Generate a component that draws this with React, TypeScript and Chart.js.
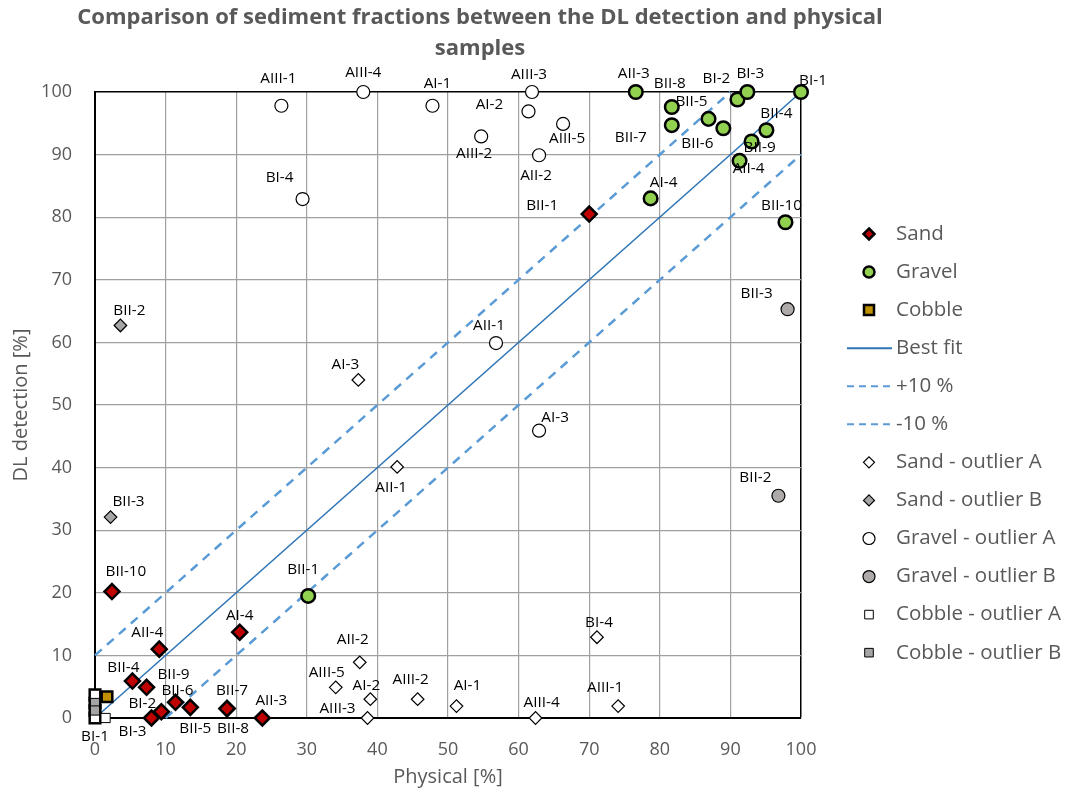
import React, { useEffect, useRef } from "react";
import { Chart, registerables } from "chart.js";

Chart.register(...registerables);

// ---------------- DATA ----------------
const titleLines = [
  "Comparison of sediment fractions between the DL detection and physical",
  "samples",
];
const xAxisTitle = "Physical [%]";
const yAxisTitle = "DL detection [%]";

const sandLabels = ["BII-10", "AII-4", "AI-4", "BII-4", "BII-9", "BI-2", "BI-3", "BII-6", "BII-5", "BII-7", "BII-8", "AII-3", "BII-1"];
const sandX = [2.4, 9.1, 20.5, 5.3, 7.3, 9.4, 8.0, 11.4, 13.5, 18.7, 18.7, 23.7, 70.0];
const sandY = [20.2, 11.0, 13.7, 5.9, 4.9, 1.0, 0, 2.5, 1.7, 1.5, 1.5, 0, 80.5];

const gravelLabels = ["AII-3", "BII-8", "BII-7", "BII-5", "BII-6", "BI-2", "BI-3", "BI-1", "BII-4", "BII-9", "AII-4", "AI-4", "BII-10", "BII-1"];
const gravelX = [76.6, 81.7, 81.7, 86.9, 89.0, 91.0, 92.4, 100, 95.1, 93.0, 91.3, 78.7, 97.8, 30.2];
const gravelY = [100, 97.6, 94.7, 95.7, 94.2, 98.8, 100, 100, 93.9, 92.1, 89.0, 83.0, 79.2, 19.5];

const cobbleLabels = ["BI-1", "", "", "", ""];
const cobbleX = [0, 0, 0, 0, 1.7];
const cobbleY = [0, 1.2, 2.4, 3.7, 3.4];

const sandOutAX = [37.5, 34.1, 39.0, 38.6, 45.7, 51.2, 62.4, 71.1, 74.1, 37.3, 42.8];
const sandOutAY = [8.9, 4.9, 3.0, 0, 3.0, 1.9, 0, 12.9, 1.9, 54.0, 40.1];
const sandOutALabels = ["AII-2", "AIII-5", "AI-2", "AIII-3", "AIII-2", "AI-1", "AIII-4", "BI-4", "AIII-1", "AI-3", "AII-1"];

const sandOutBX = [3.6, 2.2];
const sandOutBY = [62.7, 32.1];
const sandOutBLabels = ["BII-2", "BII-3"];

const gravelOutAX = [26.4, 38.0, 47.8, 61.9, 61.4, 66.3, 54.7, 62.9, 29.4, 56.8, 62.9];
const gravelOutAY = [97.8, 100, 97.8, 100, 96.9, 94.9, 92.9, 89.9, 82.9, 59.9, 45.9];
const gravelOutALabels = ["AIII-1", "AIII-4", "AI-1", "AIII-3", "AI-2", "AIII-5", "AIII-2", "AII-2", "BI-4", "AII-1", "AI-3"];

const gravelOutBX = [98.1, 96.8];
const gravelOutBY = [65.3, 35.5];
const gravelOutBLabels = ["BII-3", "BII-2"];

const cobbleOutAX = [0, 0, 1.5];
const cobbleOutAY = [3.7, 0, 0];
const cobbleOutBX = [0, 0];
const cobbleOutBY = [2.4, 1.2];

const bestFitX = [0, 100];
const bestFitY = [0, 100];
const plus10X = [0, 90];
const plus10Y = [10, 100];
const minus10X = [10, 100];
const minus10Y = [0, 90];

const xTicks = [0, 10, 20, 30, 40, 50, 60, 70, 80, 90, 100];
const yTicks = [0, 10, 20, 30, 40, 50, 60, 70, 80, 90, 100];

// label placement (pixel offsets of each label relative to its point)
const sandLabelOffsets = [[14, -20], [-12, -17], [0, -17], [-9, -13], [27, -13], [-19, -8], [-19, 14], [2, -12], [5, 21], [5, -18], [6, 20], [9, -17], [-47, -8]];
const gravelLabelOffsets = [[-2, -18], [-2, -23], [-41, 12], [-17, -17], [-26, 15], [-21, -21], [3, -18], [12, -11], [10, -17], [8, 6], [9, 8], [13, -16], [-4, -17], [-5, -26]];
const cobbleLabelOffsets = [[0, 19], [0, 0], [0, 0], [0, 0], [0, 0]];
const sandOutALabelOffsets = [[-7, -23], [-9, -15], [-4, -14], [-30, -9], [-7, -20], [11, -20], [6, -15], [2, -15], [-13, -18], [-13, -15], [-6, 21]];
const sandOutBLabelOffsets = [[9, -15], [18, -15]];
const gravelOutALabelOffsets = [[-3, -27], [0, -19], [5, -22], [-3, -17], [-39, -7], [4, 15], [-7, 17], [-3, 20], [-23, -21], [-7, -17], [16, -13]];
const gravelOutBLabelOffsets = [[-31, -16], [-23, -18]];

const FONT = '"Open Sans", "DejaVu Sans", sans-serif';
const GREY_TEXT = "#595959";

const pts = (xs: number[], ys: number[]) => xs.map((x, i) => ({ x, y: ys[i] }));

// ------------- plugins ---------------
const titlePlugin = {
  id: "customTitle",
  afterDraw(chart: any) {
    const ctx = chart.ctx;
    ctx.save();
    ctx.font = `bold 22px ${FONT}`;
    ctx.fillStyle = GREY_TEXT;
    ctx.textAlign = "center";
    ctx.textBaseline = "middle";
    titleLines.forEach((t, i) => ctx.fillText(t, 480, 18 + i * 31));
    ctx.restore();
  },
};

const labelPlugin = {
  id: "pointLabels",
  afterDatasetsDraw(chart: any) {
    const ctx = chart.ctx;
    ctx.save();
    ctx.font = `15.3px ${FONT}`;
    ctx.fillStyle = "#000";
    ctx.textAlign = "center";
    ctx.textBaseline = "middle";
    chart.data.datasets.forEach((ds: any, i: number) => {
      if (!ds.pointLabels) return;
      const meta = chart.getDatasetMeta(i);
      meta.data.forEach((el: any, j: number) => {
        const t = ds.pointLabels[j];
        if (!t) return;
        const off = ds.labelOffsets[j];
        ctx.fillText(t, el.x + off[0], el.y + off[1]);
      });
    });
    ctx.restore();
  },
};

function drawMarker(ctx: CanvasRenderingContext2D, shape: string, x: number, y: number, r: number, fill: string, bw: number) {
  ctx.beginPath();
  if (shape === "diamond") {
    ctx.moveTo(x, y - r);
    ctx.lineTo(x + r, y);
    ctx.lineTo(x, y + r);
    ctx.lineTo(x - r, y);
    ctx.closePath();
  } else if (shape === "circle") {
    ctx.arc(x, y, r, 0, Math.PI * 2);
  } else {
    ctx.rect(x - r, y - r, 2 * r, 2 * r);
  }
  ctx.fillStyle = fill;
  ctx.fill();
  ctx.lineWidth = bw;
  ctx.strokeStyle = "#000";
  ctx.stroke();
}

const legendItems = [
  { text: "Sand", kind: "diamond", r: 5.5, fill: "#C00000", bw: 2.5 },
  { text: "Gravel", kind: "circle", r: 5.5, fill: "#92D050", bw: 2.5 },
  { text: "Cobble", kind: "square", r: 5, fill: "#BF9000", bw: 2.5 },
  { text: "Best fit", kind: "line", color: "#2E75B6", dash: [] as number[], w: 2 },
  { text: "+10 %", kind: "line", color: "#5B9BD5", dash: [7, 5], w: 2 },
  { text: "-10 %", kind: "line", color: "#5B9BD5", dash: [7, 5], w: 2 },
  { text: "Sand - outlier A", kind: "diamond", r: 5.5, fill: "#FFFFFF", bw: 1.2 },
  { text: "Sand - outlier B", kind: "diamond", r: 5.5, fill: "#A5A5A5", bw: 1.2 },
  { text: "Gravel - outlier A", kind: "circle", r: 6, fill: "#FFFFFF", bw: 1.2 },
  { text: "Gravel - outlier B", kind: "circle", r: 6, fill: "#AEAAAA", bw: 1.2 },
  { text: "Cobble - outlier A", kind: "square", r: 4.3, fill: "#FFFFFF", bw: 1 },
  { text: "Cobble - outlier B", kind: "square", r: 4.3, fill: "#A5A5A5", bw: 1 },
];

const legendPlugin = {
  id: "customLegend",
  afterDraw(chart: any) {
    const ctx = chart.ctx;
    ctx.save();
    legendItems.forEach((it: any, i: number) => {
      const y = 234 + i * 38.06;
      if (it.kind === "line") {
        ctx.beginPath();
        ctx.setLineDash(it.dash);
        ctx.strokeStyle = it.color;
        ctx.lineWidth = it.w;
        ctx.moveTo(847, y);
        ctx.lineTo(892, y);
        ctx.stroke();
        ctx.setLineDash([]);
      } else {
        drawMarker(ctx, it.kind, 869, y, it.r, it.fill, it.bw);
      }
      ctx.font = `20.5px ${FONT}`;
      ctx.fillStyle = GREY_TEXT;
      ctx.textAlign = "left";
      ctx.textBaseline = "middle";
      ctx.fillText(it.text, 896, y);
    });
    ctx.restore();
  },
};

export default function App() {
  const ref = useRef<HTMLCanvasElement | null>(null);

  useEffect(() => {
    if (!ref.current) return;
    const gridColor = (c: any) => (c.tick && c.tick.value === 100 ? "#000000" : "#A0A0A0");
    const gridWidth = (c: any) => (c.tick && c.tick.value === 100 ? 1.5 : 1.2);

    const chart = new Chart(ref.current, {
      type: "scatter",
      data: {
        datasets: [
          {
            label: "Best fit",
            data: pts(bestFitX, bestFitY),
            showLine: true,
            borderColor: "#2E75B6",
            borderWidth: 1.6,
            pointRadius: 0,
            order: 20,
          },
          {
            label: "+10 %",
            data: pts(plus10X, plus10Y),
            showLine: true,
            borderColor: "#5B9BD5",
            borderWidth: 2.5,
            borderDash: [9, 7],
            pointRadius: 0,
            order: 19,
          },
          {
            label: "-10 %",
            data: pts(minus10X, minus10Y),
            showLine: true,
            borderColor: "#5B9BD5",
            borderWidth: 2.5,
            borderDash: [9, 7],
            pointRadius: 0,
            order: 18,
          },
          {
            label: "Sand",
            data: pts(sandX, sandY),
            pointStyle: "rectRot",
            pointRadius: 7.5,
            backgroundColor: "#C00000",
            borderColor: "#000",
            borderWidth: 2.5,
            order: 10,
            pointLabels: sandLabels,
            labelOffsets: sandLabelOffsets,
          },
          {
            label: "Gravel",
            data: pts(gravelX, gravelY),
            pointStyle: "circle",
            pointRadius: 6.8,
            backgroundColor: "#92D050",
            borderColor: "#000",
            borderWidth: 2.5,
            order: 9,
            pointLabels: gravelLabels,
            labelOffsets: gravelLabelOffsets,
          },
          {
            label: "Cobble",
            data: pts(cobbleX, cobbleY),
            pointStyle: "rect",
            pointRadius: 7.5,
            backgroundColor: "#BF9000",
            borderColor: "#000",
            borderWidth: 2.5,
            order: 8,
            pointLabels: cobbleLabels,
            labelOffsets: cobbleLabelOffsets,
          },
          {
            label: "Sand - outlier A",
            data: pts(sandOutAX, sandOutAY),
            pointStyle: "rectRot",
            pointRadius: 6.3,
            backgroundColor: "#FFFFFF",
            borderColor: "#000",
            borderWidth: 1.2,
            order: 7,
            pointLabels: sandOutALabels,
            labelOffsets: sandOutALabelOffsets,
          },
          {
            label: "Sand - outlier B",
            data: pts(sandOutBX, sandOutBY),
            pointStyle: "rectRot",
            pointRadius: 6.3,
            backgroundColor: "#A5A5A5",
            borderColor: "#000",
            borderWidth: 1.2,
            order: 6,
            pointLabels: sandOutBLabels,
            labelOffsets: sandOutBLabelOffsets,
          },
          {
            label: "Gravel - outlier A",
            data: pts(gravelOutAX, gravelOutAY),
            pointStyle: "circle",
            pointRadius: 6.5,
            backgroundColor: "#FFFFFF",
            borderColor: "#000",
            borderWidth: 1.2,
            order: 5,
            pointLabels: gravelOutALabels,
            labelOffsets: gravelOutALabelOffsets,
          },
          {
            label: "Gravel - outlier B",
            data: pts(gravelOutBX, gravelOutBY),
            pointStyle: "circle",
            pointRadius: 6.5,
            backgroundColor: "#AEAAAA",
            borderColor: "#000",
            borderWidth: 1.2,
            order: 4,
            pointLabels: gravelOutBLabels,
            labelOffsets: gravelOutBLabelOffsets,
          },
          {
            label: "Cobble - outlier A",
            data: pts(cobbleOutAX, cobbleOutAY),
            pointStyle: "rect",
            pointRadius: 6.5,
            backgroundColor: "#FFFFFF",
            borderColor: "#000",
            borderWidth: 1,
            order: 3,
          },
          {
            label: "Cobble - outlier B",
            data: pts(cobbleOutBX, cobbleOutBY),
            pointStyle: "rect",
            pointRadius: 6.5,
            backgroundColor: "#A5A5A5",
            borderColor: "#000",
            borderWidth: 1,
            order: 2,
          },
        ] as any,
      },
      options: {
        animation: false,
        responsive: false,
        maintainAspectRatio: false,
        layout: { padding: { left: 0, top: 92, right: 265, bottom: 0 } },
        datasets: { scatter: { clip: false } } as any,
        plugins: {
          legend: { display: false },
          tooltip: { enabled: false },
          title: { display: false },
        },
        scales: {
          x: {
            type: "linear",
            min: 0,
            max: 100,
            afterFit: (s: any) => { s.height = 75; },
            afterBuildTicks: (s: any) => { s.ticks = xTicks.map((v) => ({ value: v })); },
            ticks: { color: GREY_TEXT, font: { family: FONT, size: 18 }, padding: 21 },
            grid: { color: gridColor, lineWidth: gridWidth, drawTicks: false },
            border: { color: "#000", width: 2 },
            title: { display: true, text: xAxisTitle, color: GREY_TEXT, font: { family: FONT, size: 20 }, padding: { top: 0, bottom: 4 } },
          },
          y: {
            type: "linear",
            min: 0,
            max: 100,
            afterFit: (s: any) => { s.width = 95; },
            afterBuildTicks: (s: any) => { s.ticks = yTicks.map((v) => ({ value: v })); },
            ticks: { color: GREY_TEXT, font: { family: FONT, size: 18 }, padding: 23 },
            grid: { color: gridColor, lineWidth: gridWidth, drawTicks: false },
            border: { color: "#000", width: 2 },
            title: { display: true, text: yAxisTitle, color: GREY_TEXT, font: { family: FONT, size: 20 }, padding: { top: 9, bottom: 0 } },
          },
        },
      },
      plugins: [labelPlugin, titlePlugin, legendPlugin],
    } as any);
    return () => chart.destroy();
  }, []);

  return (
    <div style={{ position: "fixed", left: 0, top: 0, width: 1066, height: 793, background: "#fff" }}>
      <canvas ref={ref} width={1066} height={793} style={{ width: 1066, height: 793, display: "block" }} />
    </div>
  );
}
